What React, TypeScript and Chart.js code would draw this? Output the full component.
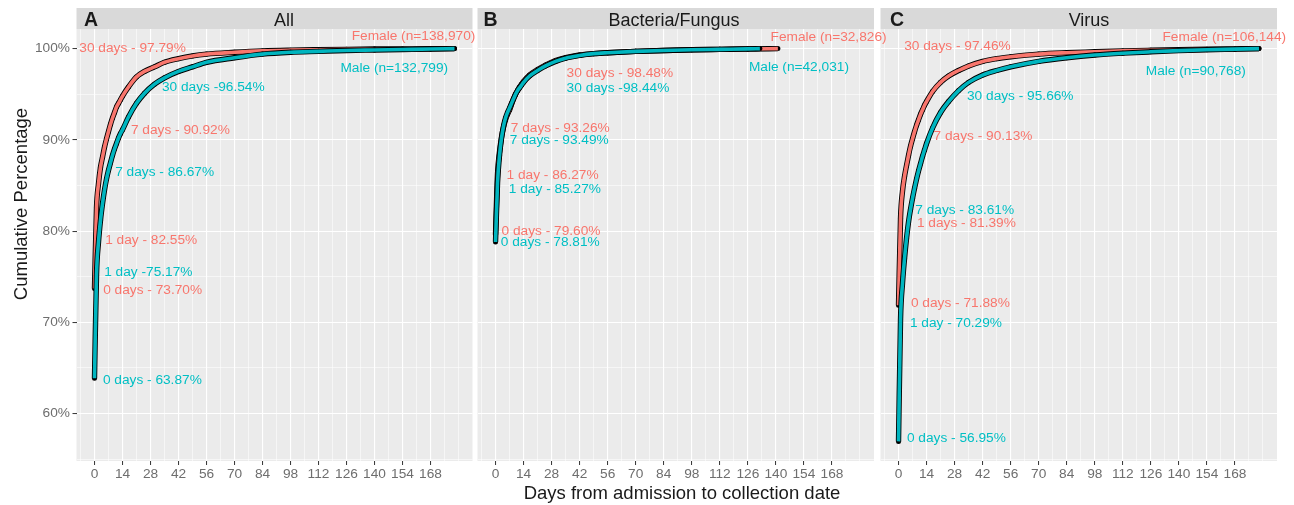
import React, { useEffect, useRef } from "react";
import { Chart, registerables } from "chart.js";

Chart.register(...registerables);

// ---------------- data ----------------
const X_TICKS = [0, 14, 28, 42, 56, 70, 84, 98, 112, 126, 140, 154, 168];
const Y_TICKS = [60, 70, 80, 90, 100];

const DAYS_FULL = [0, 1, 2, 3, 4, 5, 6, 7, 8, 9, 10, 11, 12, 13, 14, 17, 21, 25, 30, 35, 42, 49, 56, 70, 84, 98, 112, 126, 140, 154, 168, 180];
const DAYS_B_FEMALE = [0, 1, 2, 3, 4, 5, 6, 7, 8, 9, 10, 11, 12, 13, 14, 17, 21, 25, 30, 35, 42, 49, 56, 70, 84, 98, 112, 126, 141];
const DAYS_B_MALE = [0, 1, 2, 3, 4, 5, 6, 7, 8, 9, 10, 11, 12, 13, 14, 17, 21, 25, 30, 35, 42, 49, 56, 70, 84, 98, 112, 126, 132];

const ALL_FEMALE = [73.7, 82.55, 85.2, 87.0, 88.1, 89.2, 90.1, 90.92, 91.7, 92.4, 93.0, 93.6, 94.0, 94.4, 94.8, 95.8, 96.9, 97.5, 98.0, 98.5, 98.9, 99.2, 99.4, 99.6, 99.75, 99.83, 99.88, 99.92, 99.95, 99.97, 99.99, 100];
const ALL_MALE = [63.87, 75.17, 78.8, 81.2, 83.0, 84.5, 85.7, 86.67, 87.5, 88.3, 89.0, 89.6, 90.2, 90.7, 91.1, 92.5, 94.0, 95.1, 96.1, 96.8, 97.5, 98.0, 98.5, 99.0, 99.4, 99.6, 99.7, 99.8, 99.85, 99.9, 99.95, 100];

const BF_FEMALE = [79.6, 86.27, 88.7, 90.3, 91.4, 92.2, 92.8, 93.26, 93.9, 94.5, 95.0, 95.4, 95.8, 96.1, 96.4, 97.1, 97.7, 98.2, 98.7, 99.0, 99.3, 99.45, 99.55, 99.7, 99.8, 99.87, 99.92, 99.96, 100];
const BF_MALE = [78.81, 85.27, 88.3, 90.2, 91.5, 92.4, 93.0, 93.49, 94.0, 94.5, 95.0, 95.4, 95.7, 96.0, 96.3, 97.0, 97.6, 98.1, 98.6, 98.95, 99.25, 99.45, 99.55, 99.7, 99.8, 99.87, 99.92, 99.97, 100];

const VIRUS_FEMALE = [71.88, 81.39, 84.4, 86.0, 87.2, 88.3, 89.3, 90.13, 90.9, 91.6, 92.2, 92.8, 93.3, 93.8, 94.2, 95.3, 96.3, 97.0, 97.6, 98.1, 98.6, 98.9, 99.1, 99.4, 99.55, 99.65, 99.75, 99.82, 99.88, 99.93, 99.97, 100];
const VIRUS_MALE = [56.95, 70.29, 74.3, 77.0, 79.2, 81.0, 82.4, 83.61, 84.7, 85.7, 86.6, 87.4, 88.2, 88.9, 89.6, 91.3, 93.0, 94.2, 95.4, 96.3, 97.1, 97.6, 98.0, 98.6, 99.0, 99.3, 99.5, 99.65, 99.78, 99.87, 99.94, 100];

// annotation texts, anchored in data coordinates (day, percent)
const ALL_LABELS = [
  { text: "Female (n=138,970)", day: 159.5, pct: 101.38, sex: "F", align: "center" },
  { text: "Male (n=132,799)", day: 149.9, pct: 97.88, sex: "M", align: "center" },
  { text: "30 days - 97.79%", day: -7.6, pct: 100.07, sex: "F", align: "left" },
  { text: "30 days -96.54%", day: 33.7, pct: 95.79, sex: "M", align: "left" },
  { text: "7 days - 90.92%", day: 18.2, pct: 91.08, sex: "F", align: "left" },
  { text: "7 days - 86.67%", day: 10.35, pct: 86.48, sex: "M", align: "left" },
  { text: "1 day - 82.55%", day: 5.35, pct: 79.02, sex: "F", align: "left" },
  { text: "1 day -75.17%", day: 4.85, pct: 75.55, sex: "M", align: "left" },
  { text: "0 days - 73.70%", day: 4.35, pct: 73.62, sex: "F", align: "left" },
  { text: "0 days - 63.87%", day: 4.2, pct: 63.75, sex: "M", align: "left" },
];
const BF_LABELS = [
  { text: "Female (n=32,826)", day: 166.3, pct: 101.27, sex: "F", align: "center" },
  { text: "Male (n=42,031)", day: 151.5, pct: 97.98, sex: "M", align: "center" },
  { text: "30 days - 98.48%", day: 35.5, pct: 97.33, sex: "F", align: "left" },
  { text: "30 days -98.44%", day: 35.5, pct: 95.68, sex: "M", align: "left" },
  { text: "7 days - 93.26%", day: 7.65, pct: 91.3, sex: "F", align: "left" },
  { text: "7 days - 93.49%", day: 7.15, pct: 89.98, sex: "M", align: "left" },
  { text: "1 day - 86.27%", day: 5.5, pct: 86.15, sex: "F", align: "left" },
  { text: "1 day - 85.27%", day: 6.65, pct: 84.61, sex: "M", align: "left" },
  { text: "0 days - 79.60%", day: 3.0, pct: 80.01, sex: "F", align: "left" },
  { text: "0 days - 78.81%", day: 2.65, pct: 78.8, sex: "M", align: "left" },
];
const VIRUS_LABELS = [
  { text: "Female (n=106,144)", day: 162.7, pct: 101.27, sex: "F", align: "center" },
  { text: "Male (n=90,768)", day: 148.45, pct: 97.55, sex: "M", align: "center" },
  { text: "30 days - 97.46%", day: 2.85, pct: 100.29, sex: "F", align: "left" },
  { text: "30 days - 95.66%", day: 34.2, pct: 94.81, sex: "M", align: "left" },
  { text: "7 days - 90.13%", day: 17.5, pct: 90.42, sex: "F", align: "left" },
  { text: "7 days - 83.61%", day: 8.35, pct: 82.31, sex: "M", align: "left" },
  { text: "1 days - 81.39%", day: 9.2, pct: 80.89, sex: "F", align: "left" },
  { text: "0 days - 71.88%", day: 6.2, pct: 72.19, sex: "F", align: "left" },
  { text: "1 day - 70.29%", day: 5.7, pct: 70.0, sex: "M", align: "left" },
  { text: "0 days - 56.95%", day: 4.2, pct: 57.4, sex: "M", align: "left" },
];

// ---------------- styling / layout ----------------
const W = 1294;
const H = 505;
const FONT = "'Liberation Sans', Arial, Helvetica, sans-serif";
const PINK = "#F8766D";
const TEAL = "#00BFC4";
const TEAL_LINE = "#00B5BF";
const X_MIN = -9;
const X_MAX = 189;
const Y_MIN = 54.8;
const Y_MAX = 102.15;
const STRIP_TOP = 8;
const PANEL_TOP = 29;
const PANEL_BOTTOM = 461;

const PANELS = [
  { key: "A", title: "All", titleX: 284, letterX: 84, left: 76.5, right: 472.5, showY: true,
    fDays: DAYS_FULL, fVals: ALL_FEMALE, mDays: DAYS_FULL, mVals: ALL_MALE, labels: ALL_LABELS },
  { key: "B", title: "Bacteria/Fungus", titleX: 674, letterX: 483.5, left: 477.5, right: 874, showY: false,
    fDays: DAYS_B_FEMALE, fVals: BF_FEMALE, mDays: DAYS_B_MALE, mVals: BF_MALE, labels: BF_LABELS },
  { key: "C", title: "Virus", titleX: 1089, letterX: 890, left: 880.5, right: 1277, showY: false,
    fDays: DAYS_FULL, fVals: VIRUS_FEMALE, mDays: DAYS_FULL, mVals: VIRUS_MALE, labels: VIRUS_LABELS },
];

const pts = (days: number[], vals: number[]) => days.map((d, i) => ({ x: d, y: vals[i] }));

function xGridValues() {
  const out: number[] = [];
  for (let v = -7; v <= 182; v += 7) out.push(v);
  return out;
}
function yGridValues() {
  const out: number[] = [];
  for (let v = 55; v <= 100; v += 5) out.push(v);
  return out;
}

function makePlugin(p: any) {
  return {
    id: "panelDeco" + p.key,
    beforeDraw(chart: any) {
      const { ctx, chartArea: a } = chart;
      ctx.save();
      ctx.fillStyle = "#EBEBEB";
      ctx.fillRect(a.left, a.top, a.right - a.left, a.bottom - a.top);
      ctx.fillStyle = "#D9D9D9";
      ctx.fillRect(a.left, STRIP_TOP, a.right - a.left, a.top - STRIP_TOP);
      ctx.fillStyle = "#1A1A1A";
      ctx.textBaseline = "alphabetic";
      ctx.textAlign = "center";
      ctx.font = `18px ${FONT}`;
      ctx.fillText(p.title, p.titleX, 25.5);
      ctx.textAlign = "left";
      ctx.font = `bold 19.5px ${FONT}`;
      ctx.fillText(p.key, p.letterX, 25.5);
      ctx.restore();
    },
    afterDraw(chart: any) {
      const { ctx } = chart;
      const xs = chart.scales.x;
      const ys = chart.scales.y;
      ctx.save();
      ctx.font = `13.7px ${FONT}`;
      ctx.textBaseline = "middle";
      for (const l of p.labels) {
        ctx.fillStyle = l.sex === "F" ? PINK : TEAL;
        ctx.textAlign = l.align;
        ctx.fillText(l.text, xs.getPixelForValue(l.day), ys.getPixelForValue(l.pct) + 0.5);
      }
      if (p.showY) {
        ctx.fillStyle = "#1A1A1A";
        ctx.font = `18.5px ${FONT}`;
        ctx.textAlign = "center";
        ctx.textBaseline = "middle";
        ctx.fillText("Days from admission to collection date", 682, 494);
        ctx.translate(22, 204);
        ctx.rotate(-Math.PI / 2);
        ctx.fillText("Cumulative Percentage", 0, 0);
      }
      ctx.restore();
    },
  };
}

function buildConfig(p: any): any {
  const female = pts(p.fDays, p.fVals);
  const male = pts(p.mDays, p.mVals);
  const base = { cubicInterpolationMode: "monotone", fill: false, parsing: true };
  return {
    type: "line",
    data: {
      datasets: [
        { ...base, label: "Male", data: male, borderColor: TEAL_LINE, borderWidth: 3.6, pointRadius: 0, order: 0 },
        { ...base, label: "Male outline", data: male, borderColor: "#000", borderWidth: 5.4, pointRadius: 2.5, pointBackgroundColor: "#000", pointBorderWidth: 0, order: 1 },
        { ...base, label: "Female", data: female, borderColor: PINK, borderWidth: 3.6, pointRadius: 0, order: 2 },
        { ...base, label: "Female outline", data: female, borderColor: "#000", borderWidth: 5.4, pointRadius: 2.5, pointBackgroundColor: "#000", pointBorderWidth: 0, order: 3 },
      ],
    },
    options: {
      animation: false,
      responsive: false,
      maintainAspectRatio: false,
      devicePixelRatio: 1,
      events: [],
      layout: { padding: { left: p.showY ? 0 : p.left, right: W - p.right, top: PANEL_TOP, bottom: 0 } },
      plugins: { legend: { display: false }, tooltip: { enabled: false } },
      scales: {
        x: {
          type: "linear",
          min: X_MIN,
          max: X_MAX,
          afterBuildTicks: (s: any) => { s.ticks = xGridValues().map((v) => ({ value: v })); },
          afterFit: (s: any) => { s.height = H - PANEL_BOTTOM; },
          border: { display: false },
          grid: {
            color: "#FFFFFF",
            lineWidth: (c: any) => (c.tick && X_TICKS.includes(c.tick.value) ? 1.1 : 0.55),
            drawTicks: true,
            tickLength: 4,
            tickWidth: 1,
            tickColor: (c: any) => (c.tick && X_TICKS.includes(c.tick.value) ? "#333333" : "rgba(0,0,0,0)"),
          },
          ticks: {
            autoSkip: false,
            maxRotation: 0,
            minRotation: 0,
            padding: 1,
            color: "#6E6E6E",
            font: { family: FONT, size: 13.7 },
            callback: (v: number) => (X_TICKS.includes(v) ? String(v) : ""),
          },
        },
        y: {
          type: "linear",
          min: Y_MIN,
          max: Y_MAX,
          afterBuildTicks: (s: any) => { s.ticks = yGridValues().map((v) => ({ value: v })); },
          afterFit: (s: any) => { s.width = p.showY ? p.left : 0; },
          border: { display: false },
          grid: {
            color: "#FFFFFF",
            lineWidth: (c: any) => (c.tick && Y_TICKS.includes(c.tick.value) ? 1.1 : 0.55),
            drawTicks: p.showY,
            tickLength: 4,
            tickWidth: 1,
            tickColor: (c: any) => (c.tick && Y_TICKS.includes(c.tick.value) ? "#333333" : "rgba(0,0,0,0)"),
          },
          ticks: {
            display: p.showY,
            autoSkip: false,
            padding: 2.5,
            color: "#6E6E6E",
            font: { family: FONT, size: 13.7 },
            callback: (v: number) => (Y_TICKS.includes(v) ? `${v}%` : ""),
          },
        },
      },
    },
    plugins: [makePlugin(p)],
  };
}

function PanelCanvas({ panel, z }: { panel: any; z: number }) {
  const ref = useRef<HTMLCanvasElement | null>(null);
  useEffect(() => {
    if (!ref.current) return;
    const chart = new Chart(ref.current, buildConfig(panel));
    return () => chart.destroy();
  }, [panel]);
  return (
    <canvas
      ref={ref}
      width={W}
      height={H}
      style={{ position: "absolute", left: 0, top: 0, width: W, height: H, zIndex: z }}
    />
  );
}

export default function App() {
  return (
    <div style={{ position: "fixed", left: 0, top: 0, width: W, height: H, background: "#FFFFFF", overflow: "hidden" }}>
      {PANELS.map((p, i) => (
        <PanelCanvas key={p.key} panel={p} z={PANELS.length - i} />
      ))}
    </div>
  );
}
